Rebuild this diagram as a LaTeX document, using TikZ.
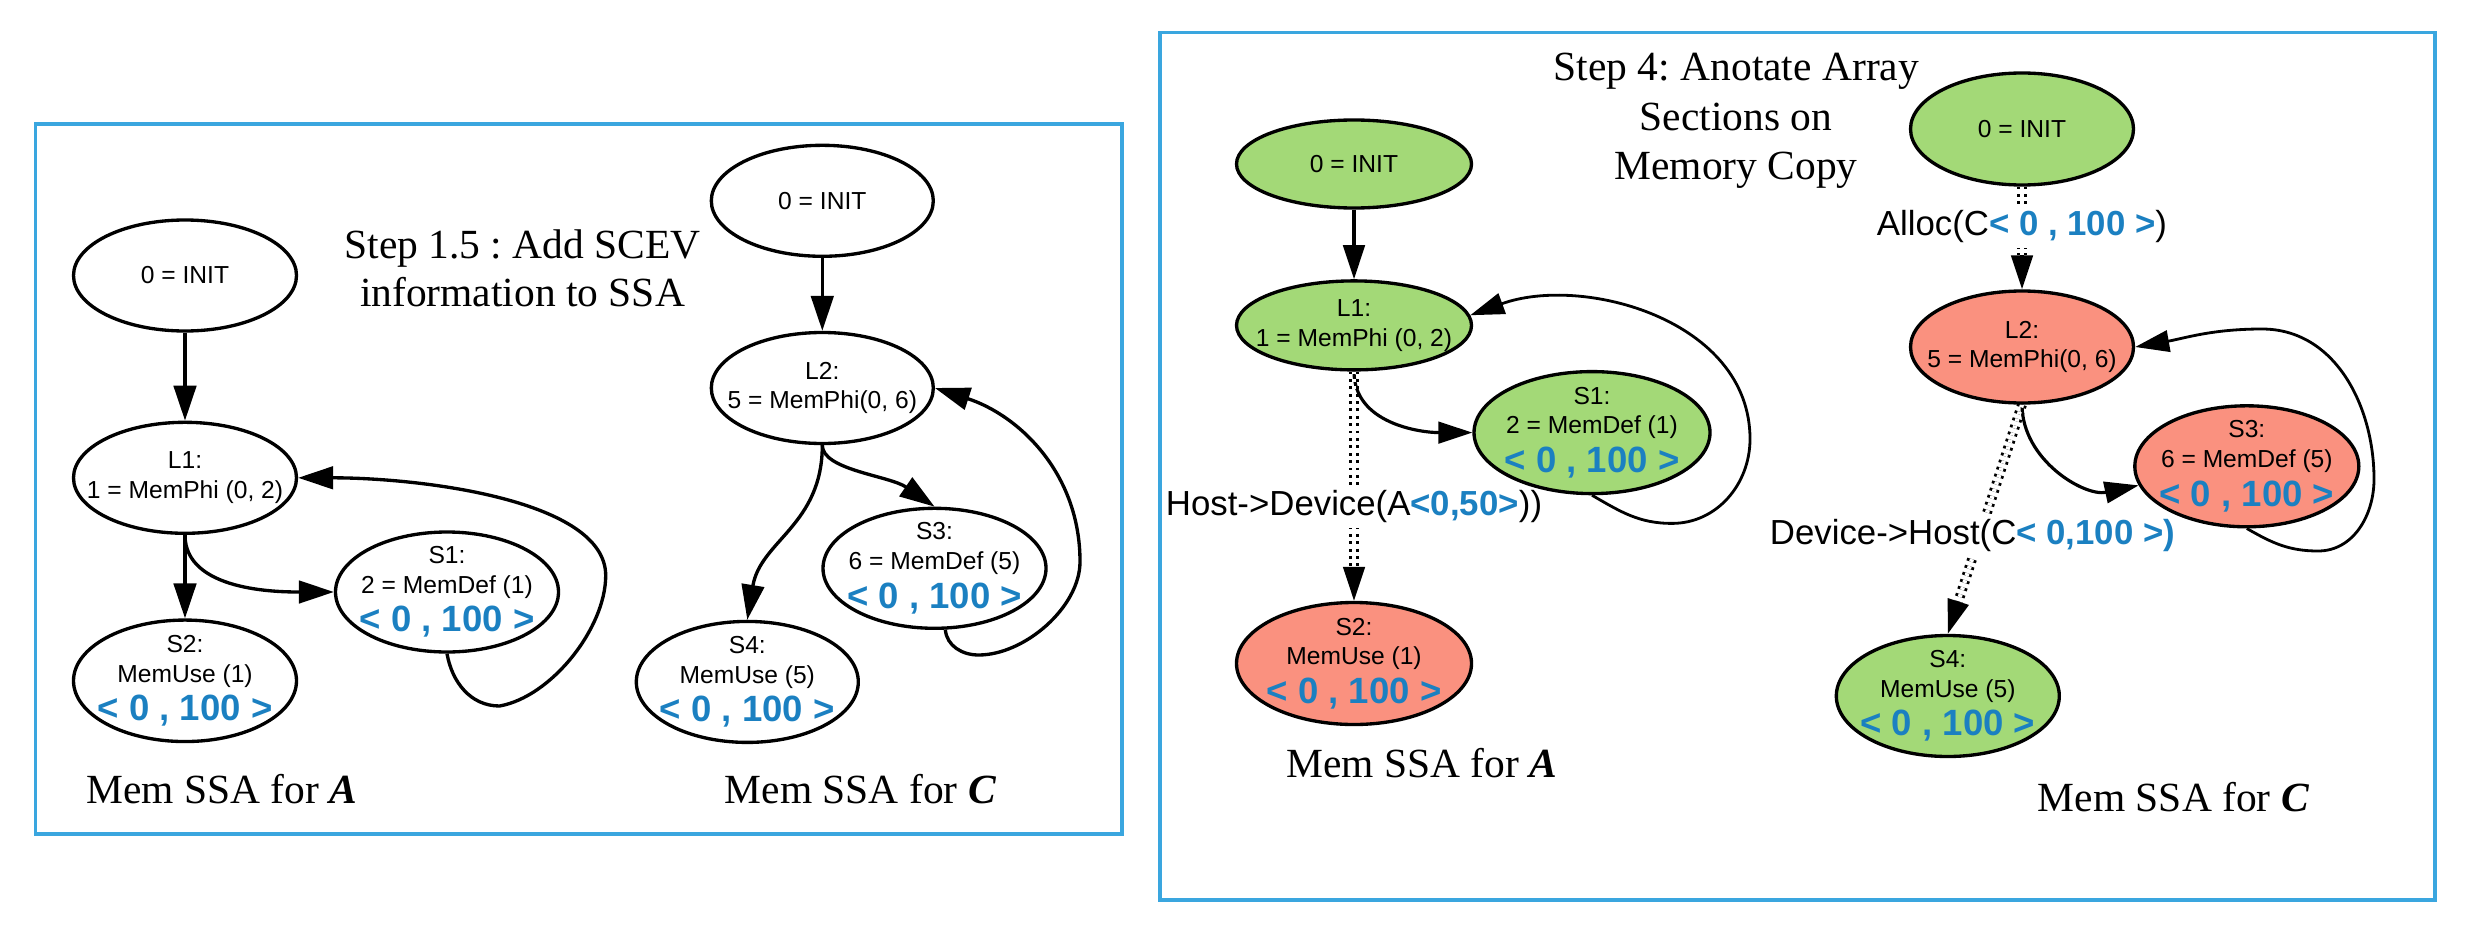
\documentclass[tikz,border=0pt]{standalone}
\usepackage{fontspec}
\setmainfont{Liberation Serif}
\setsansfont{Liberation Sans}
\usetikzlibrary{arrows.meta,shapes.geometric,calc}
\definecolor{boxblue}{HTML}{3AA6DF}
\definecolor{rngblue}{HTML}{1B80C1}
\definecolor{nodegreen}{HTML}{A3D977}
\definecolor{nodered}{HTML}{FA917F}
\pgfdeclarelayer{bg}
\pgfsetlayers{bg,main}
\newcommand\rngtxt{{\fontsize{10.4}{12}\selectfont\bfseries\color{rngblue}< 0 , 100 >}}
\newcommand\blu[1]{{\bfseries\color{rngblue}#1}}
\newcommand\ellfont{\sffamily\fontsize{7}{8.4}\selectfont\lineskiplimit=-50pt\relax}
\newcommand\ttlfont{\rmfamily\fontsize{11.8}{14}\selectfont\frenchspacing}
\tikzset{
  frame/.style={draw=boxblue, line width=1pt},
  ell/.style 2 args={ellipse, draw=black, line width=0.95pt, minimum width=#1, minimum height=#2,
    inner xsep=-40pt, inner ysep=-20pt, align=center, font=\ellfont},
  ttl/.style={font=\ttlfont, inner sep=0pt},
  edgeA/.style={line width=0.95pt, -{Triangle[length=0.35cm,width=0.225cm]}},
  edgeB/.style={line width=0.9pt, -{Triangle[length=0.34cm,width=0.215cm]}},
  loopB/.style={line width=0.8pt, -{Triangle[length=0.34cm,width=0.215cm]}},
  tipline/.style={line width=0.9pt, -{Triangle[length=0.34cm,width=0.215cm]}},
  dotpair/.style={line width=0.8pt, double=white, double distance=1.2pt,
    dash pattern=on 0.8pt off 1.3pt, shorten >=0.34cm},
  elab/.style={fill=white, inner xsep=1pt, inner ysep=1.5pt,
    font=\sffamily\fontsize{9.9}{11}\selectfont},
}
\begin{document}
\begin{tikzpicture}
\useasboundingbox (0,0) rectangle (24.72,-9.47);
% frames
\draw[frame] (0.354,-1.24) rectangle (11.22,-8.34);
\draw[frame] (11.60,-0.326) rectangle (24.35,-9.00);

% ---------- left panel ----------
\node[ell={2.23cm}{1.11cm}] (ia) at (1.85,-2.755) {0 = INIT};
\node[ell={2.23cm}{1.11cm}] (la) at (1.85,-4.778) {L1:\\1 = MemPhi (0, 2)};
\node[ell={2.23cm}{1.215cm}] (s2a) at (1.85,-6.808) {S2:\\MemUse (1)\\[2.6pt]\rngtxt};
\node[ell={2.23cm}{1.20cm}] (s1a) at (4.47,-5.92) {S1:\\2 = MemDef (1)\\[2.6pt]\rngtxt};
\node[ell={2.22cm}{1.11cm}] (ic) at (8.223,-2.008) {0 = INIT};
\node[ell={2.22cm}{1.11cm}] (lc) at (8.223,-3.88) {L2:\\5 = MemPhi(0, 6)};
\node[ell={2.23cm}{1.20cm}] (s3c) at (9.345,-5.683) {S3:\\6 = MemDef (5)\\[2.6pt]\rngtxt};
\node[ell={2.22cm}{1.21cm}] (s4c) at (7.473,-6.819) {S4:\\MemUse (5)\\[2.6pt]\rngtxt};

\node[ttl, anchor=base] (t1a) at (5.225,-2.58) {Step 1.5 : Add SCEV};
\node[ttl, anchor=base] (t1b) at (5.225,-3.065) {information to SSA};
\node[ttl, anchor=base] (capA) at (2.216,-8.037) {Mem SSA for \textbf{\textit{A}}};
\node[ttl, anchor=base] (capC) at (8.605,-8.037) {Mem SSA for \textbf{\textit{C}}};

% ---------- right panel ----------
\node[ell={2.35cm}{0.88cm}, fill=nodegreen] (ib) at (13.54,-1.64) {0 = INIT};
\node[ell={2.35cm}{0.89cm}, fill=nodegreen] (lb) at (13.54,-3.254) {L1:\\1 = MemPhi (0, 2)};
\node[ell={2.36cm}{1.22cm}, fill=nodegreen] (s1b) at (15.92,-4.326) {S1:\\2 = MemDef (1)\\[2.6pt]\rngtxt};
\node[ell={2.35cm}{1.22cm}, fill=nodered] (s2b) at (13.54,-6.635) {S2:\\MemUse (1)\\[2.6pt]\rngtxt};
\node[ell={2.23cm}{1.12cm}, fill=nodegreen] (id) at (20.22,-1.29) {0 = INIT};
\node[ell={2.23cm}{1.12cm}, fill=nodered] (ld) at (20.22,-3.47) {L2:\\5 = MemPhi(0, 6)};
\node[ell={2.24cm}{1.21cm}, fill=nodered] (s3d) at (22.468,-4.663) {S3:\\6 = MemDef (5)\\[2.6pt]\rngtxt};
\node[ell={2.23cm}{1.21cm}, fill=nodegreen] (s4d) at (19.478,-6.96) {S4:\\MemUse (5)\\[2.6pt]\rngtxt};

\node[ttl, anchor=base] (t2a) at (17.364,-0.803) {Step 4: Anotate Array};
\node[ttl, anchor=base] (t2b) at (17.36,-1.308) {Sections on};
\node[ttl, anchor=base] (t2c) at (17.36,-1.796) {Memory Copy};
\node[ttl, anchor=base] (capA2) at (14.22,-7.777) {Mem SSA for \textbf{\textit{A}}};
\node[ttl, anchor=base] (capC2) at (21.735,-8.11) {Mem SSA for \textbf{\textit{C}}};

% waypoints
\coordinate (p1) at (4.995,-7.06);
\coordinate (p2) at (6.057,-5.755);
\coordinate (q1) at (9.786,-6.55);
\coordinate (q2) at (10.80,-5.616);
\coordinate (r1) at (16.72,-5.234);
\coordinate (r2) at (17.50,-4.39);
\coordinate (u1) at (23.18,-5.51);
\coordinate (u2) at (23.74,-4.792);
\coordinate (u3) at (22.62,-3.29);
\coordinate (tS2) at ($(s2b.north)+(0,0.34)$);
\coordinate (tL2) at ($(ld.north)+(0,0.34)$);
\coordinate (tS4) at ($(s4d.north)!0.34cm!(ld.south)$);

\begin{pgfonlayer}{bg}
% left panel edges
\draw[edgeA] (ia) -- (la);
\draw[edgeA] (la) -- (s2a);
\draw[edgeA] (la.south) to[out=-90,in=180,looseness=0.9] (s1a.west);
\draw[edgeA] (s1a.south) to[out=-80,in=180] (p1) to[out=10,in=-90,looseness=0.8] (p2)
  .. controls +(0,0.755) and +(1.225,0) .. (la.east);
\draw[edgeA] (ic) -- (lc);
\draw[edgeA] (lc.south) .. controls +(0,-0.25) and +(-0.45,0.31) .. (s3c.north);
\draw[edgeA] (lc.south) .. controls +(0,-0.8) and +(0.13,0.79) .. (s4c.north);
\draw[edgeA] (s3c.-80) to[out=-85,in=180] (q1) to[out=0,in=-90,looseness=0.85] (q2)
  to[out=90,in=-18] (lc.east);

% right panel edges
\draw[edgeB] (ib) -- (lb);
\draw[edgeB] (lb.south) to[out=-90,in=180] (s1b.west);
\draw[loopB] (s1b.south) to[out=-30,in=180] (r1) to[out=0,in=-90] (r2) to[out=90,in=20] (lb.5);
\draw[dotpair] (lb) -- node[elab,pos=0.587] (hd) {Host->Device(A\blu{<0,50>}))} (s2b);
\draw[tipline] (tS2) -- (s2b.north);

\draw[dotpair] (id) -- node[elab,pos=0.385] (al) {Alloc(C\blu{< 0 , 100 >})} (ld);
\draw[tipline] (tL2) -- (ld.north);
\draw[edgeB] (ld.south) to[out=-90,in=192] (s3d.190);
\draw[loopB] (s3d.south) to[out=-30,in=180] (u1) to[out=0,in=-90] (u2) to[out=90,in=0] (u3)
  to[out=180,in=10] (ld.east);
\draw[dotpair] (ld.south) -- node[elab,pos=0.573,xshift=-0.07cm] (dh) {Device->Host(C\blu{< 0,100 >)}} (s4d.north);
\draw[tipline] (tS4) -- (s4d.north);
\end{pgfonlayer}
\end{tikzpicture}
\end{document}
